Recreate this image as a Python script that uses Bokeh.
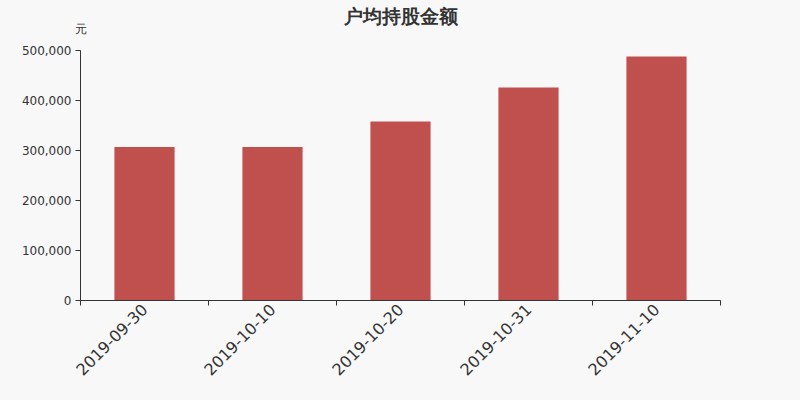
from bokeh.plotting import figure
from bokeh.models import Range1d, FixedTicker, NumeralTickFormatter, LinearAxis
from bokeh.embed import file_html
from bokeh.resources import INLINE
import math

title_text = "户均持股金额"
unit_text = "元"
categories = ["2019-09-30", "2019-10-10", "2019-10-20", "2019-10-31", "2019-11-10"]
values = [307000, 307000, 358000, 426000, 488000]
y_ticks = [0, 100000, 200000, 300000, 400000, 500000]

bg = "#f8f8f8"
bar_color = "#c0504d"
axis_color = "#333333"

p = figure(width=784, height=384, output_backend="svg", toolbar_location=None, title=None,
           x_range=Range1d(0, len(categories)), y_range=Range1d(0, 500000),
           min_border_left=80, min_border_right=64, min_border_top=50, min_border_bottom=84)
p.background_fill_color = bg
p.border_fill_color = bg
p.outline_line_color = None
p.grid.visible = False

xs = [i + 0.5 for i in range(len(categories))]
p.vbar(x=xs, top=values, bottom=0, width=0.47, fill_color=bar_color, line_color=None)

# top axis without line/ticks: its one label is the unit "元" above the y axis,
# its axis label is the chart title, centred over the plot
top_axis = LinearAxis(ticker=FixedTicker(ticks=[0], minor_ticks=[]),
                      major_label_overrides={0: unit_text},
                      axis_line_color=None, major_tick_line_color=None,
                      major_tick_in=0, major_tick_out=0, minor_tick_line_color=None,
                      major_label_standoff=15, major_label_text_font_size="12px",
                      major_label_text_color=axis_color, major_label_text_font="DejaVu Sans",
                      axis_label=title_text, axis_label_standoff=-8,
                      axis_label_text_font_size="19px", axis_label_text_font_style="bold",
                      axis_label_text_color=axis_color, axis_label_text_font="DejaVu Sans")
p.add_layout(top_axis, "above")

# x axis
xa = p.below[0]
xa.ticker = FixedTicker(ticks=xs, minor_ticks=list(range(len(categories) + 1)))
xa.major_label_overrides = {x: c for x, c in zip(xs, categories)}
xa.major_label_orientation = math.pi / 4
xa.major_tick_line_color = None
xa.minor_tick_line_color = axis_color
xa.minor_tick_in = 0
xa.minor_tick_out = 5
xa.axis_line_color = axis_color
xa.major_label_text_font = "DejaVu Sans"
xa.major_label_text_font_size = "16px"
xa.major_label_text_color = axis_color
xa.major_label_standoff = 0

# y axis
p.yaxis.ticker = FixedTicker(ticks=y_ticks, minor_ticks=[])
p.yaxis.formatter = NumeralTickFormatter(format="0,0")
p.yaxis.axis_line_color = axis_color
p.yaxis.major_tick_line_color = axis_color
p.yaxis.major_tick_in = 0
p.yaxis.major_tick_out = 5
p.yaxis.major_label_text_font = "DejaVu Sans"
p.yaxis.major_label_text_font_size = "12px"
p.yaxis.major_label_text_color = axis_color
p.yaxis.major_label_standoff = 4

html = file_html(p, INLINE)
html = html.replace("</head>", "<style>html, body { background-color: #f8f8f8; }</style></head>", 1)
open("out.html", "w").write(html)
